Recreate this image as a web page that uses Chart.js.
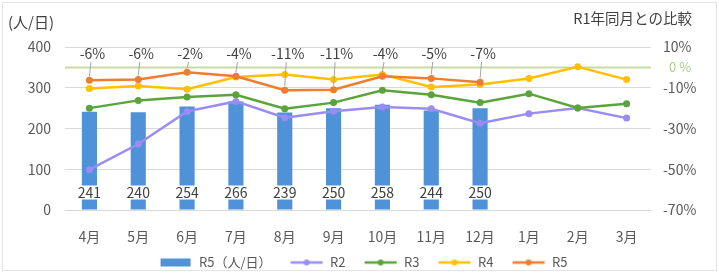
<!DOCTYPE html>
<html lang="ja">
<head>
<meta charset="utf-8">
<script src="https://cdn.jsdelivr.net/npm/chart.js@4.4.1/dist/chart.umd.min.js"></script>
<style>
  html, body { margin: 0; padding: 0; background: #fff; }
  #wrap { width: 719px; height: 273px; }
</style>
</head>
<body>
<div id="wrap"><canvas id="visitorChart" width="719" height="273"></canvas></div>
<script>
// Data
const months = ['4月', '5月', '6月', '7月', '8月', '9月', '10月', '11月', '12月', '1月', '2月', '3月'];
const r5Visitors = [241, 240, 254, 266, 239, 250, 258, 244, 250, null, null, null];
const r2Rate = [-50.2, -37.6, -21.6, -16.7, -24.7, -21.5, -19.5, -20.3, -27.4, -22.7, -19.9, -24.9];
const r3Rate = [-20.0, -16.2, -14.5, -13.4, -20.3, -17.3, -11.2, -13.4, -17.3, -12.9, -19.9, -17.8];
const r4Rate = [-10.4, -9.1, -10.7, -4.7, -3.5, -6.0, -3.5, -9.6, -8.4, -5.5, 0.3, -6.0];
const r5Rate = [-6.3, -6.0, -2.4, -4.4, -11.2, -11.0, -4.4, -5.4, -7.3, null, null, null];
const leftTicks = [0, 100, 200, 300, 400];
const rightTicks = [-70, -50, -30, -10, 10];

const FONT = "'Noto Sans CJK JP', 'Noto Sans', sans-serif";
const TEXT = '#404040';
const TICK = '#595959';

Chart.defaults.font.family = FONT;
Chart.defaults.color = TICK;

// small legend icons (box for bars, line with dot for lines)
// drawn at the right part of a 41px canvas so the text sits close to it
function legendIcon(color, isBar) {
  const c = document.createElement('canvas');
  c.width = 41;
  c.height = 10;
  const g = c.getContext('2d');
  if (isBar) {
    g.fillStyle = color;
    g.fillRect(9, 1, 30, 8);
  } else {
    g.strokeStyle = color;
    g.lineWidth = 2.5;
    g.beginPath();
    g.moveTo(8, 5);
    g.lineTo(40, 5);
    g.stroke();
    g.fillStyle = color;
    g.beginPath();
    g.arc(24, 5, 3, 0, Math.PI * 2);
    g.fill();
  }
  return c;
}

function lineSet(label, data, color, order) {
  return {
    type: 'line',
    label: label,
    data: data,
    yAxisID: 'y1',
    borderColor: color,
    backgroundColor: color,
    borderWidth: 2.5,
    pointRadius: 3.5,
    pointBorderWidth: 0,
    pointBackgroundColor: color,
    tension: 0,
    order: order
  };
}

// frame, 0% line and titles
const decorPlugin = {
  id: 'decor',
  beforeDraw(chart) {
    const ctx = chart.ctx;
    ctx.save();
    ctx.fillStyle = '#fff';
    ctx.fillRect(0, 0, chart.width, chart.height);
    ctx.strokeStyle = '#e4e4e4';
    ctx.lineWidth = 1;
    ctx.strokeRect(2.5, 2.5, chart.width - 5, chart.height - 5);
    ctx.restore();
  },
  beforeDatasetsDraw(chart) {
    const ctx = chart.ctx;
    const area = chart.chartArea;
    const y0 = Math.round(chart.scales.y1.getPixelForValue(0)) + 0.5;
    ctx.save();
    ctx.strokeStyle = '#c5dca6';
    ctx.lineWidth = 2;
    ctx.beginPath();
    ctx.moveTo(area.left, y0);
    ctx.lineTo(area.right, y0);
    ctx.stroke();
    ctx.fillStyle = '#a9cf8c';
    ctx.font = '13px ' + FONT;
    ctx.textBaseline = 'middle';
    ctx.textAlign = 'left';
    ctx.fillText('0 %', area.right + 18, y0);
    ctx.restore();
  },
  afterDatasetsDraw(chart) {
    const ctx = chart.ctx;
    ctx.save();
    ctx.font = '14px ' + FONT;
    ctx.textAlign = 'center';
    ctx.textBaseline = 'middle';

    // bar values with white box, near the bottom of each bar
    const barMeta = chart.getDatasetMeta(0);
    barMeta.data.forEach((bar, i) => {
      const v = r5Visitors[i];
      if (v == null) return;
      const ty = bar.base - 17;
      const w = ctx.measureText(String(v)).width + 4;
      ctx.fillStyle = '#fff';
      ctx.fillRect(bar.x - w / 2, ty - 7, w, 14);
      ctx.fillStyle = TEXT;
      ctx.fillText(String(v), bar.x, ty);
    });

    // R5 rate labels above the plot with leader lines
    const rateMeta = chart.getDatasetMeta(4);
    const labelY = chart.chartArea.top + 7;
    rateMeta.data.forEach((pt, i) => {
      const v = r5Rate[i];
      if (v == null) return;
      ctx.strokeStyle = '#a6a6a6';
      ctx.lineWidth = 1;
      ctx.beginPath();
      ctx.moveTo(pt.x + 1.5, labelY + 8);
      ctx.lineTo(pt.x, pt.y - 4);
      ctx.stroke();
      ctx.fillStyle = TEXT;
      ctx.fillText(Math.round(v) + '%', pt.x + 3, labelY);
    });
    ctx.restore();
  },
  afterDraw(chart) {
    const ctx = chart.ctx;
    ctx.save();
    ctx.fillStyle = TEXT;
    ctx.textBaseline = 'middle';
    ctx.font = '15px ' + FONT;
    ctx.textAlign = 'left';
    ctx.fillText('(人/日)', 8, 22);
    ctx.font = '14.5px ' + FONT;
    ctx.textAlign = 'right';
    ctx.fillText('R1年同月との比較', 692, 18);
    ctx.restore();
  }
};

const ctx = document.getElementById('visitorChart').getContext('2d');
new Chart(ctx, {
  data: {
    labels: months,
    datasets: [
      {
        type: 'bar',
        label: 'R5（人/日）',
        data: r5Visitors,
        yAxisID: 'y',
        backgroundColor: '#4f92d8',
        barPercentage: 0.31,
        categoryPercentage: 1,
        order: 5
      },
      lineSet('R2', r2Rate, '#9a8cf2', 4),
      lineSet('R3', r3Rate, '#5ba43c', 3),
      lineSet('R4', r4Rate, '#ffc000', 2),
      lineSet('R5', r5Rate, '#ed7d31', 1)
    ]
  },
  options: {
    responsive: false,
    animation: false,
    layout: {
      padding: { top: 47, left: 8, right: 8, bottom: -6 }
    },
    scales: {
      x: {
        grid: { display: false, drawTicks: false },
        border: { display: false },
        ticks: { padding: 18, color: TICK, font: { size: 14 } },
        afterFit(scale) { scale.height = 35; }
      },
      y: {
        position: 'left',
        min: 0,
        max: 400,
        afterBuildTicks(scale) { scale.ticks = leftTicks.map(v => ({ value: v })); },
        grid: { color: '#d9d9d9', drawTicks: false },
        border: { display: false },
        ticks: { padding: 14, color: TICK, font: { size: 14 } },
        afterFit(scale) { scale.width = 57; }
      },
      y1: {
        position: 'right',
        min: -70,
        max: 10,
        afterBuildTicks(scale) { scale.ticks = rightTicks.map(v => ({ value: v })); },
        grid: { display: false, drawTicks: false },
        border: { display: false },
        ticks: {
          padding: 12,
          color: TICK,
          font: { size: 14 },
          callback: v => v + '%'
        },
        afterFit(scale) { scale.width = 60; }
      }
    },
    plugins: {
      tooltip: { enabled: false },
      legend: {
        position: 'bottom',
        labels: {
          usePointStyle: true,
          pointStyleWidth: 41,
          padding: 11,
          color: TICK,
          font: { size: 13 },
          generateLabels(chart) {
            return chart.data.datasets.map((ds, i) => ({
              text: ds.label,
              pointStyle: legendIcon(ds.backgroundColor, ds.type === 'bar'),
              fillStyle: ds.backgroundColor,
              strokeStyle: ds.backgroundColor,
              fontColor: TICK,
              lineWidth: 0,
              hidden: false,
              datasetIndex: i
            }));
          }
        }
      }
    }
  },
  plugins: [decorPlugin]
});
</script>
</body>
</html>
